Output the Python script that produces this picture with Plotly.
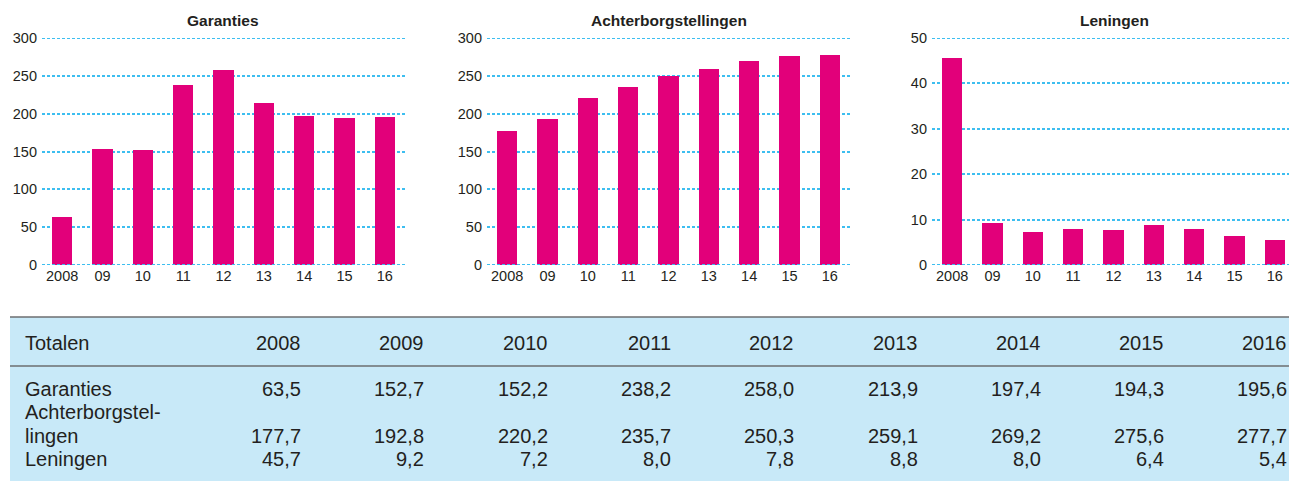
import plotly.graph_objects as go

W, H = 1289, 481

years = ["2008", "2009", "2010", "2011", "2012", "2013", "2014", "2015", "2016"]
tick_labels = ["2008", "09", "10", "11", "12", "13", "14", "15", "16"]

garanties = [63.5, 152.7, 152.2, 238.2, 258.0, 213.9, 197.4, 194.3, 195.6]
achterborgstellingen = [177.7, 192.8, 220.2, 235.7, 250.3, 259.1, 269.2, 275.6, 277.7]
leningen = [45.7, 9.2, 7.2, 8.0, 7.8, 8.8, 8.0, 6.4, 5.4]

titles = ["Garanties", "Achterborgstellingen", "Leningen"]
y_max = [300, 300, 50]
y_step = [50, 50, 10]

BAR = "#E2007A"
GRID = "#3DBEF0"
TXT = "#231F20"
TABLE_BG = "#C8E9F8"
RULE = "#6D6E71"
FONT = "Liberation Sans, Arial, Helvetica, sans-serif"
GRID_DASH = "3px,2px"

# panel geometry in pixels: (left, right, x-range end)
panels = [(42, 405, 8.5), (487, 850, 8.5), (932, 1289, -0.5 + (1289 - 932) / 40.33)]
title_x = [223.5, 668.5, 1114]
top_px, bottom_px = 38, 265

fig = go.Figure()
series = [garanties, achterborgstellingen, leningen]
shapes = []
for i, (vals, (l, r, xend)) in enumerate(zip(series, panels)):
    sfx = "" if i == 0 else str(i + 1)
    fig.add_trace(go.Bar(
        x=list(range(len(tick_labels))), y=vals, width=0.5,
        marker=dict(color=BAR, line=dict(width=0)),
        xaxis=f"x{sfx}", yaxis=f"y{sfx}", hoverinfo="skip", showlegend=False,
    ))
    fig.layout[f"xaxis{sfx}"] = dict(
        domain=[l / W, r / W], range=[-0.5, xend], anchor=f"y{sfx}",
        tickmode="array", tickvals=list(range(len(tick_labels))), ticktext=tick_labels,
        showgrid=False, zeroline=False, showline=False, ticks="", automargin=False,
        tickfont=dict(family=FONT, size=14.5, color=TXT),
        fixedrange=True,
    )
    fig.layout[f"yaxis{sfx}"] = dict(
        domain=[1 - bottom_px / H, 1 - top_px / H], range=[0, y_max[i]], anchor=f"x{sfx}",
        tickmode="linear", tick0=0, dtick=y_step[i],
        showgrid=True, gridcolor=GRID, gridwidth=1.8, griddash=GRID_DASH,
        zeroline=False, showline=False, ticks="", ticklabelstandoff=4, automargin=False,
        tickfont=dict(family=FONT, size=14.5, color=TXT),
        fixedrange=True,
    )
    # gridlines at both ends of the value range
    for yv in (0, y_max[i]):
        shapes.append(dict(
            type="line", xref=f"x{sfx} domain", yref=f"y{sfx}", x0=0, x1=1, y0=yv, y1=yv,
            line=dict(color=GRID, width=1.8, dash=GRID_DASH),
            layer="above" if yv == 0 else "below",
        ))
    fig.add_annotation(
        xref="paper", yref="paper", x=title_x[i] / W, y=1 - 21 / H,
        text=f"<b>{titles[i]}</b>", showarrow=False, xanchor="center", yanchor="middle",
        font=dict(family=FONT, size=15.5, color=TXT),
    )

# table of totals below the charts
shapes += [
    dict(type="rect", xref="paper", yref="paper", x0=10 / W, x1=1, y0=0, y1=1 - 317 / H,
         fillcolor=TABLE_BG, line=dict(width=0), layer="below"),
    dict(type="line", xref="paper", yref="paper", x0=10 / W, x1=1,
         y0=1 - 317 / H, y1=1 - 317 / H, line=dict(color=RULE, width=1.5)),
    dict(type="line", xref="paper", yref="paper", x0=10 / W, x1=1,
         y0=1 - 366 / H, y1=1 - 366 / H, line=dict(color=RULE, width=1.5)),
]
fig.update_layout(shapes=shapes)

tfont = dict(family=FONT, size=20, color=TXT)


def txt(x, y, s, anchor):
    fig.add_annotation(xref="paper", yref="paper", x=x / W, y=1 - y / H, text=s,
                       showarrow=False, xanchor=anchor, yanchor="middle", font=tfont,
                       borderpad=0, borderwidth=0)


def fmt(v):
    return f"{v:.1f}".replace(".", ",")


col_right = [301 + 123.3 * k for k in range(len(years))]
label_x = 25
txt(label_x, 343, "Totalen", "left")
for x, yr in zip(col_right, years):
    txt(x, 343, yr, "right")

txt(label_x, 389, "Garanties", "left")
txt(label_x, 412, "Achterborgstel-", "left")
txt(label_x, 436, "lingen", "left")
txt(label_x, 459, "Leningen", "left")
for x, g, a, le in zip(col_right, garanties, achterborgstellingen, leningen):
    txt(x, 389, fmt(g), "right")
    txt(x, 436, fmt(a), "right")
    txt(x, 459, fmt(le), "right")

fig.update_layout(
    width=W, height=H, margin=dict(l=0, r=0, t=0, b=0, pad=0, autoexpand=False),
    paper_bgcolor="white", plot_bgcolor="rgba(0,0,0,0)", bargap=0,
)

fig.write_html("out.html", config={"displayModeBar": False})
